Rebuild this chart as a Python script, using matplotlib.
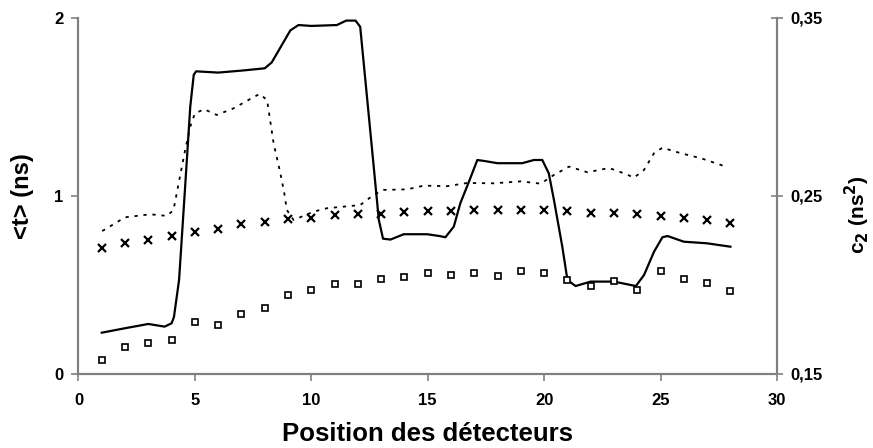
import matplotlib
matplotlib.use("Agg")
import matplotlib.pyplot as plt
from matplotlib import font_manager

# --- data -------------------------------------------------------------
positions = list(range(1, 29))

# <t> (ns), markers "x"
t_mean = [0.71, 0.738, 0.751, 0.777, 0.798, 0.815, 0.841, 0.854, 0.869, 0.878,
          0.891, 0.897, 0.899, 0.908, 0.916, 0.914, 0.921, 0.921, 0.921, 0.921,
          0.914, 0.906, 0.906, 0.898, 0.888, 0.878, 0.865, 0.850]

# c2 (ns^2), open squares
c2_points = [0.1579, 0.1650, 0.1676, 0.1689, 0.1790, 0.1777, 0.1839, 0.1872,
             0.1942, 0.1974, 0.2006, 0.2006, 0.2036, 0.2043, 0.2069, 0.2058,
             0.2069, 0.2052, 0.2077, 0.2067, 0.2030, 0.1996, 0.2022, 0.1974,
             0.2079, 0.2036, 0.2013, 0.1966]

# <t> (ns), continuous curve
t_curve_x = [1, 2, 3, 3.7, 4.0, 4.1, 4.32, 4.58, 4.8, 4.95, 5.05, 6, 7, 8, 8.3,
             9.1, 9.45, 10, 11.1, 11.5, 11.9, 12.1, 12.68, 12.9, 13.08, 13.4,
             13.97, 14.98, 15.5, 15.76, 16.12, 16.4, 16.77, 17.13, 17.5, 17.99,
             19.06, 19.56, 19.92, 20.2, 20.42, 20.78, 21.0, 21.35, 22.0, 23.0,
             23.94, 24.29, 24.72, 25.08, 25.3, 26.0, 27.0, 28.0]
t_curve_y = [0.232, 0.257, 0.281, 0.266, 0.285, 0.32, 0.528, 1.05, 1.5, 1.68,
             1.70, 1.693, 1.704, 1.717, 1.75, 1.93, 1.96, 1.955, 1.96, 1.985,
             1.985, 1.95, 1.165, 0.865, 0.76, 0.755, 0.785, 0.785, 0.775, 0.768,
             0.828, 0.959, 1.08, 1.202, 1.195, 1.184, 1.184, 1.202, 1.202, 1.127,
             0.978, 0.715, 0.528, 0.494, 0.519, 0.519, 0.494, 0.556, 0.687,
             0.768, 0.775, 0.743, 0.734, 0.715]

# c2 (ns^2), dotted curve
c2_curve_x = [1.02, 2.0, 3.08, 3.8, 4.08, 4.22, 4.58, 4.8, 5.0, 5.4, 5.94, 6.66,
              7.38, 7.78, 8.1, 8.38, 8.67, 8.84, 8.95, 9.24, 10.1, 10.67, 11.39,
              12.1, 12.68, 13.11, 14.12, 14.83, 15.84, 16.7, 17.84, 19.0, 19.85,
              20.42, 21.07, 21.86, 22.79, 23.43, 23.86, 24.29, 24.72, 25.08,
              25.87, 26.73, 27.8]
c2_curve_y = [0.2303, 0.2380, 0.2397, 0.2388, 0.2421, 0.2515, 0.2758, 0.2889,
              0.2964, 0.2987, 0.2955, 0.2992, 0.3045, 0.3073, 0.3039, 0.2796,
              0.2628, 0.2515, 0.2421, 0.2365, 0.2412, 0.2431, 0.2440, 0.2449,
              0.2506, 0.2534, 0.2537, 0.2558, 0.2555, 0.2573, 0.2571, 0.2582,
              0.2569, 0.2618, 0.2665, 0.2633, 0.2657, 0.2627, 0.2603, 0.2646,
              0.2740, 0.2771, 0.2740, 0.2712, 0.2665]

x_ticks = [0, 5, 10, 15, 20, 25, 30]
t_ticks = [0, 1, 2]
c2_ticks = [0.15, 0.25, 0.35]
c2_tick_labels = ["0,15", "0,25", "0,35"]

# --- style ------------------------------------------------------------
installed = {f.name for f in font_manager.fontManager.ttflist}
family = "Liberation Sans Narrow" if "Liberation Sans Narrow" in installed else "Liberation Sans"
plt.rcParams["font.family"] = [family, "DejaVu Sans"]
plt.rcParams["font.weight"] = "bold"

axis_grey = "#808080"

fig = plt.figure(figsize=(8.73, 4.48), dpi=100)
ax = fig.add_axes([0.0899, 0.1652, 0.8001, 0.7948])
ax2 = ax.twinx()

ax.plot(t_curve_x, t_curve_y, color="black", lw=1.6, solid_joinstyle="round")
ax.plot(positions, t_mean, ls="none", marker="x", ms=6, mew=1.6, color="black")

ax2.plot(c2_curve_x, c2_curve_y, color="black", lw=1.3, ls=(0, (1.8, 3.2)))
ax2.plot(positions, c2_points, ls="none", marker="s", ms=4.2, mew=1.2,
         mfc="white", mec="black")

ax.set_xlim(0, 30)
ax.set_ylim(0, 2)
ax2.set_ylim(0.15, 0.35)

ax.set_xticks(x_ticks)
ax.set_yticks(t_ticks)
ax2.set_yticks(c2_ticks)
ax2.set_yticklabels(c2_tick_labels)

for a in (ax, ax2):
    a.spines["top"].set_visible(False)
    for s in ("left", "right", "bottom"):
        a.spines[s].set_color(axis_grey)
        a.spines[s].set_linewidth(1.5)
    a.patch.set_visible(False)

ax.tick_params(axis="both", direction="out", length=5, width=1.2, color=axis_grey,
               labelsize=12, pad=6)
ax.tick_params(axis="x", pad=9)
ax2.tick_params(axis="y", direction="inout", length=8, width=1.2, color=axis_grey,
                labelsize=12, pad=6)

for lab in ax.get_xticklabels() + ax.get_yticklabels() + ax2.get_yticklabels():
    lab.set_fontweight("bold")

ax.set_xlabel("Position des détecteurs", fontsize=18.5, fontweight="bold", labelpad=10)
ax.set_ylabel("<t> (ns)", fontsize=17, fontweight="bold")
ax.yaxis.set_label_coords(-0.064, 0.5)
ax2.set_ylabel("c$_\\mathbf{2}$ (ns$^\\mathbf{2}$)", fontsize=15, fontweight="bold")
ax2.yaxis.set_label_coords(1.094, 0.447)

fig.savefig("out.png", dpi=100, facecolor="white")
